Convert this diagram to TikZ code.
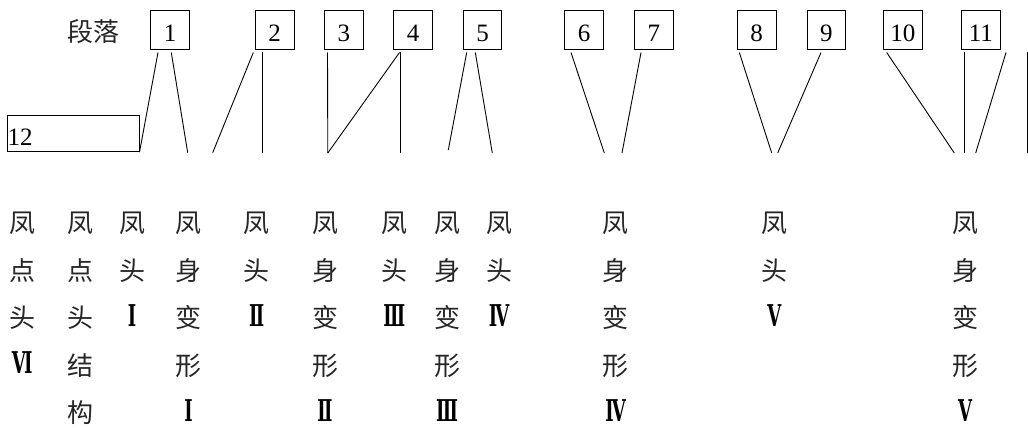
\documentclass[tikz,border=0pt]{standalone}
\usepackage{fontspec}
\usepackage{graphicx}
\setmainfont{Liberation Serif}
\newfontfamily\cjk{Noto Sans CJK SC}
\newfontfamily\rnf{DejaVu Serif}
\usetikzlibrary{calc}
\newcommand\rn[1]{{\rnf\bfseries\fontsize{30}{47.5}\selectfont\color{black}\raisebox{1.5pt}{\scalebox{0.6}[1]{#1}}}}
\begin{document}
\begin{tikzpicture}[x=1pt,y=-1pt, line width=0.9pt,
  numbox/.style={draw, line width=1pt, minimum width=38.6pt, minimum height=39pt, inner sep=0pt,
    text height=22.7pt, text depth=0pt, font=\fontsize{25}{25}\selectfont},
  longbox/.style={draw, line width=1pt, minimum height=36pt, inner sep=0pt, text width=131.3pt,
    align=left, text height=24pt, text depth=0pt, font=\fontsize{25}{25}\selectfont},
  col/.style={anchor=north, inner sep=0pt, align=center, font=\cjk\fontsize{26}{47.5}\selectfont, text=black!85},
  lab/.style={inner sep=0pt, font=\cjk\fontsize{26}{26}\selectfont, text=black!85}]
\useasboundingbox (0,0) rectangle (1028,428);

\node[lab] (title) at (93,31.5) {段落};
\node[numbox] (b1) at (170,30.5) {1};
\node[numbox] (b2) at (274.7,30.5) {2};
\node[numbox] (b3) at (343.8,30.5) {3};
\node[numbox] (b4) at (413.2,30.5) {4};
\node[numbox] (b5) at (482.5,30.5) {5};
\node[numbox] (b6) at (584.2,30.5) {6};
\node[numbox] (b7) at (653.8,30.5) {7};
\node[numbox] (b8) at (756.7,30.5) {8};
\node[numbox] (b9) at (826.3,30.5) {9};
\node[numbox] (b10) at (902.8,30.5) {10};
\node[numbox] (b11) at (980.8,30.5) {11};
\node[longbox] (b12) at (73.35,133.7) {12};

\coordinate (e1) at (187.7,152.7);
\coordinate (e2) at (212.7,152.7);
\coordinate (e3) at (262.3,152.7);
\coordinate (e4) at (327.8,153);
\coordinate (e5) at (400,153);
\coordinate (e6) at (448.3,150);
\coordinate (e7) at (492.3,153);
\coordinate (e8) at (604.3,153);
\coordinate (e9) at (622,153);
\coordinate (e10) at (771.7,153);
\coordinate (e11) at (777.7,153);
\coordinate (e12) at (954.3,153);
\coordinate (e13) at (964,153);
\coordinate (e14) at (975.7,153);
\coordinate (r1) at (1027.4,52);
\coordinate (r2) at (1027.4,153);

\draw ($(b1.south)+(-12,2)$) -- (b12.south east);
\draw ($(b1.south)+(1.3,2)$) -- (e1);
\draw ($(b2.south)+(-21.4,2)$) -- (e2);
\draw ($(b2.south)+(-12.4,2)$) -- (e3);
\draw ($(b3.south)+(-16.3,2)$) -- (e4);
\draw ($(b4.south)+(-13.7,2)$) -- (e4);
\draw ($(b4.south)+(-13.2,2)$) -- (e5);
\draw ($(b5.south)+(-15.8,2)$) -- (e6);
\draw ($(b5.south)+(-7.2,2)$) -- (e7);
\draw ($(b6.south)+(-13.2,2)$) -- (e8);
\draw ($(b7.south)+(-12.8,2)$) -- (e9);
\draw ($(b8.south)+(-17.4,2)$) -- (e10);
\draw ($(b9.south)+(-5.3,2)$) -- (e11);
\draw ($(b10.south)+(-16.1,2)$) -- (e12);
\draw ($(b11.south)+(-16.8,2)$) -- (e13);
\draw ($(b11.south)+(25.2,2)$) -- (e14);
\draw (r1) -- (r2);

\node[col] (c1) at (22.3,211.7) {凤\\点\\头\\\rn{Ⅵ}};
\node[col] (c2) at (80,211.7) {凤\\点\\头\\结\\构};
\node[col] (c3) at (132,211.7) {凤\\头\\\rn{Ⅰ}};
\node[col] (c4) at (188.7,211.7) {凤\\身\\变\\形\\\rn{Ⅰ}};
\node[col] (c5) at (256.7,211.7) {凤\\头\\\rn{Ⅱ}};
\node[col] (c6) at (325,211.7) {凤\\身\\变\\形\\\rn{Ⅱ}};
\node[col] (c7) at (394.3,211.7) {凤\\头\\\rn{Ⅲ}};
\node[col] (c8) at (447,211.7) {凤\\身\\变\\形\\\rn{Ⅲ}};
\node[col] (c9) at (499,211.7) {凤\\头\\\rn{Ⅳ}};
\node[col] (c10) at (615.7,211.7) {凤\\身\\变\\形\\\rn{Ⅳ}};
\node[col] (c11) at (774.3,211.7) {凤\\头\\\rn{Ⅴ}};
\node[col] (c12) at (965,211.7) {凤\\身\\变\\形\\\rn{Ⅴ}};
\end{tikzpicture}
\end{document}
